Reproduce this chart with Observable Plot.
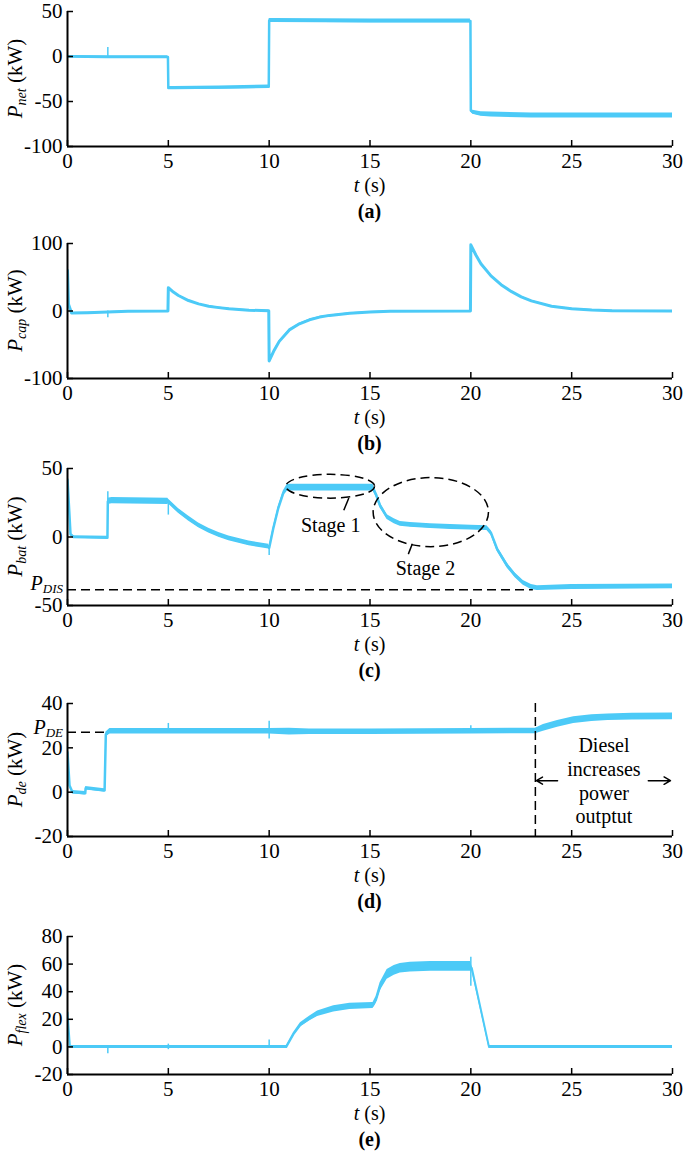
<!DOCTYPE html>
<html><head><meta charset="utf-8">
<script src="https://cdn.jsdelivr.net/npm/d3@7"></script>
<script src="https://cdn.jsdelivr.net/npm/@observablehq/plot@0.6"></script>
<style>
body{margin:0;background:#fff;width:685px;height:1160px;position:relative;overflow:hidden;font-family:"Liberation Serif","Times New Roman",serif;}
.panel{position:absolute;left:0;}
</style></head><body>
<script>
const COLOR = "#4ccaf7";
const FONT = "'Liberation Serif', 'Times New Roman', serif";
const xTicks = [0, 5, 10, 15, 20, 25, 30];

// (a) P_net
const tA = [0, 1.9, 2.1, 4.98, 5.0, 5.3, 7.5, 9.98, 10.0, 10.2, 15, 19.98, 20.0, 20.1, 20.5, 21, 23, 25, 30];
const vA = [0, -0.5, -0.5, -0.5, -35, -35, -34.5, -33.5, 40, 40, 39.5, 39.5, -60, -62, -64, -64.5, -65.5, -65.5, -65.5];
const wA = [2.5, 2.5, 2.5, 2.5, 3.5, 3.5, 3.5, 3.5, 4.5, 4.5, 4.5, 4.5, 3.5, 4.5, 5, 5.5, 5.5, 5.5, 5.5];
const spikesA = [{t: 2, lo: 0, hi: 10}];
const yTicksA = [-100, -50, 0, 50];

// (b) P_cap
const tB = [0, 0.05, 0.2, 1, 2, 3, 4.98, 5.0, 5.25, 5.5, 6, 6.5, 7, 7.5, 8, 9, 9.98, 10.0, 10.25, 10.5, 11, 11.5, 12, 12.5, 13, 14, 15, 16, 19.98, 20.0, 20.25, 20.5, 21, 21.5, 22, 22.5, 23, 24, 25, 26, 27, 30];
const vB = [60, 10, -3, -2.5, -1.5, -0.5, 0, 34.5, 28, 23, 15.5, 10.5, 7, 5, 3.3, 1.2, 0.3, -74, -58, -45, -28, -19, -13, -9, -6.5, -3.3, -1.5, -0.5, 0, 98, 83, 70, 52, 39, 29, 21, 15, 7, 3.3, 1.5, 0.5, 0];
const wB = vB.map(() => 1.5);
const spikesB = [{t: 2, lo: -10, hi: 0}];
const yTicksB = [-100, 0, 100];

// (c) P_bat
const tC = [0, 0.15, 0.3, 1.98, 2.0, 2.2, 4.98, 5.0, 5.5, 6, 6.5, 7, 7.5, 8, 9, 9.98, 10.0, 10.2, 10.45, 10.7, 10.9, 11.2, 13, 15.15, 15.3, 15.5, 15.85, 16.2, 16.5, 17, 18, 19, 20, 20.8, 21.0, 21.3, 21.8, 22.2, 22.6, 23.0, 23.3, 25, 30];
const vC = [42, 2, 0, -0.5, 26, 26.5, 26, 26, 19, 13.5, 8.5, 4.7, 1.5, -1, -4.7, -7, -8, 6, 21, 32, 36, 36, 36, 36, 31, 23, 14.5, 11.5, 9.6, 8.8, 7.9, 7.3, 6.8, 6.5, 3, -8.6, -20.8, -28, -33.5, -36.5, -37.3, -36.5, -36];
const wC = [1, 2, 2, 2, 4.5, 4.5, 4.5, 3.5, 3.5, 3.5, 3.5, 3.5, 3.5, 3.5, 3.5, 3.5, 2, 2, 2, 3, 5, 5, 5, 5, 3.5, 3.5, 3.5, 3.5, 3.5, 3.5, 3.5, 3.5, 3.5, 3.5, 3.5, 3.5, 3.5, 3.5, 3.5, 3.5, 3.5, 3.5, 3.5];
const spikesC = [{t: 2, lo: 26, hi: 33}, {t: 5, lo: 16, hi: 26}, {t: 10, lo: -13.5, hi: -7}];
const yTicksC = [-50, 0, 50];

// (d) P_de
const tD = [0, 0.1, 0.25, 0.88, 0.9, 1.84, 1.9, 2.1, 5, 10, 11, 12, 15, 20, 23.2, 23.6, 24.3, 25.1, 26, 26.8, 28, 30];
const vD = [18, 3, 0, -0.5, 1.8, 0.8, 26, 27.5, 27.5, 27.5, 27.3, 27.3, 27.3, 27.5, 27.6, 29, 30.8, 32.5, 33.4, 33.8, 34.1, 34.2];
const wD = [1, 1.5, 1.5, 1.5, 1.5, 1.5, 2, 2.5, 2.5, 2.5, 3, 2.5, 2.5, 2.5, 2.5, 3, 3, 3, 3, 3, 3, 3];
const spikesD = [{t: 5, lo: 27, hi: 31}, {t: 10, lo: 24, hi: 32}, {t: 20, lo: 27, hi: 30}];
const yTicksD = [-20, 0, 20, 40];

// (e) P_flex
const tE = [0, 0.12, 0.3, 5, 10, 10.85, 11.2, 11.55, 12, 12.4, 13.2, 14, 15.15, 15.3, 15.5, 15.85, 16.2, 16.5, 17, 18, 19, 19.98, 20.05, 20.9, 21.1, 25, 30];
const vE = [25, 0, 0, 0, 0, 0, 9, 16, 20.5, 24, 27.5, 29.3, 30, 34, 43.5, 52.5, 55.5, 57, 57.8, 58.3, 58.3, 58.3, 57, 0, 0, 0, 0];
const wE = [1, 2, 2, 2, 2, 2, 2.5, 3, 3.5, 4, 4.5, 4.5, 4.5, 5, 6, 7, 7, 7, 7, 7, 7, 7, 4, 2, 2, 2, 2];
const spikesE = [{t: 2, lo: -5, hi: 0}, {t: 5, lo: -2, hi: 2}, {t: 10, lo: 0, hi: 5}, {t: 20, lo: 44, hi: 65}];
const yTicksE = [-20, 0, 20, 40, 60, 80];

// annotations
const stageEllipses = [{t0: 10.85, t1: 15.25, y0: 28, y1: 45.4}, {t0: 15.18, t1: 20.9, y0: -7.4, y1: 43}];
const stageLabels = [{t: 13.05, y: 8.4, text: "Stage 1"}, {t: 17.75, y: -23, text: "Stage 2"}];
const stageLeaders = [
  {t1: 13.95, y1: 28.5, t2: 13.7, y2: 19.5},
  {t1: 17.1, y1: -5, t2: 16.9, y2: -12.5}
];
const pDis = -38.5, pDisEnd = 23.1;
const pDe = 27, pDeEnd = 1.9;
const dieselT = 23.2;
const dieselArrows = [{t1: 24.3, t2: 23.25, y: 5.2}, {t1: 28.8, t2: 29.9, y: 5.2}];
const dieselText = {t: 26.6, y: 5.4, text: "Diesel\nincreases\npower\noutptut"};

const panels = [
  {top: 11, bottom: 146, domain: [-100, 50], yTicks: yTicksA, t: tA, v: vA, w: wA, spikes: spikesA, sub: "net", cap: "(a)", lw: 2.5},
  {top: 243, bottom: 378, domain: [-100, 100], yTicks: yTicksB, t: tB, v: vB, w: wB, spikes: spikesB, sub: "cap", cap: "(b)", lw: 3},
  {top: 468, bottom: 605, domain: [-50, 50], yTicks: yTicksC, t: tC, v: vC, w: wC, spikes: spikesC, sub: "bat", cap: "(c)", kind: "c", lw: 2.5},
  {top: 703, bottom: 836, domain: [-20, 40], yTicks: yTicksD, t: tD, v: vD, w: wD, spikes: spikesD, sub: "de", cap: "(d)", kind: "d", lw: 2.5},
  {top: 936, bottom: 1074, domain: [-20, 80], yTicks: yTicksE, t: tE, v: vE, w: wE, spikes: spikesE, sub: "flex", cap: "(e)", lw: 2}
];

const ML = 67, MR = 13, W = 685, MT = 12, MB = 82;

function subLabel(g, main, sub, subSize, dy) {
  g.append("tspan").attr("font-style", "italic").text(main);
  g.append("tspan").attr("font-style", "italic").attr("font-size", subSize).attr("dy", dy).text(sub);
}

for (const p of panels) {
  const plotH = p.bottom - p.top;
  const plotW = W - ML - MR;
  const H = MT + plotH + MB;
  const idx = d3.range(p.t.length);
  const extra = [];
  if (p.kind === "c") {
    extra.push(Plot.ruleY([pDis], {x1: 0, x2: pDisEnd, stroke: "black", strokeWidth: 1.5, strokeDasharray: "9,5"}));
    extra.push(Plot.link(stageLeaders, {x1: "t1", y1: "y1", x2: "t2", y2: "y2", stroke: "black", strokeWidth: 1.5}));
    extra.push(Plot.text(stageLabels, {x: "t", y: "y", text: "text", fontSize: 20, fill: "black"}));
  }
  if (p.kind === "d") {
    extra.push(Plot.ruleY([pDe], {x1: 0, x2: pDeEnd, stroke: "black", strokeWidth: 1.5, strokeDasharray: "9,5"}));
    extra.push(Plot.ruleX([dieselT], {stroke: "black", strokeWidth: 1.5, strokeDasharray: "9,5"}));
    extra.push(Plot.arrow(dieselArrows, {x1: "t1", x2: "t2", y1: "y", y2: "y", stroke: "black", strokeWidth: 1.5, headLength: 9}));
    extra.push(Plot.text([dieselText], {x: "t", y: "y", text: "text", fontSize: 20, lineHeight: 1.18, fill: "black"}));
  }
  const plot = Plot.plot({
    width: W, height: H, marginLeft: ML, marginRight: MR, marginTop: MT, marginBottom: MB,
    style: {fontFamily: FONT, fontSize: "20px", color: "black", background: "white", overflow: "visible"},
    x: {domain: [0, 30]},
    y: {domain: p.domain},
    marks: [
      Plot.areaY(idx, {x: i => p.t[i], y1: i => p.v[i] - p.w[i] / 2, y2: i => p.v[i] + p.w[i] / 2, fill: COLOR, clip: true}),
      Plot.line(idx, {x: i => p.t[i], y: i => p.v[i], stroke: COLOR, strokeWidth: p.lw || 2, clip: true}),
      Plot.ruleX(p.spikes, {x: "t", y1: "lo", y2: "hi", stroke: COLOR, strokeWidth: 1.5}),
      ...extra,
      Plot.ruleX([0], {stroke: "black", strokeWidth: 2}),
      Plot.ruleY([p.domain[0]], {stroke: "black", strokeWidth: 2}),
      Plot.tickX(xTicks, {x: d => d, insetTop: plotH - 6, stroke: "black", strokeWidth: 1.5}),
      Plot.tickY(p.yTicks, {y: d => d, insetRight: plotW - 6, stroke: "black", strokeWidth: 1.5}),
      Plot.axisX(xTicks, {tickSize: 0, tickPadding: 7, tickFormat: d => String(d), fontSize: 21, label: null}),
      Plot.axisY(p.yTicks, {tickSize: 0, tickPadding: 5, tickFormat: d => String(d), fontSize: 21, label: null})
    ]
  });
  const div = document.createElement("div");
  div.className = "panel";
  div.style.top = (p.top - MT) + "px";
  div.appendChild(plot);
  document.body.appendChild(div);

  const svg = d3.select(plot);
  const sx = plot.scale("x"), sy = plot.scale("y");
  const cx = ML + plotW / 2;
  const yb = MT + plotH;
  const xl = svg.append("text").attr("x", cx).attr("y", yb + 46).attr("text-anchor", "middle")
    .attr("font-family", FONT).attr("font-size", 20).attr("fill", "black");
  xl.append("tspan").attr("font-style", "italic").text("t");
  xl.append("tspan").text(" (s)");
  svg.append("text").attr("x", cx).attr("y", yb + 72).attr("text-anchor", "middle")
    .attr("font-family", FONT).attr("font-size", 20).attr("font-weight", "bold").attr("fill", "black").text(p.cap);
  const yl = svg.append("text").attr("transform", `translate(22,${MT + plotH / 2}) rotate(-90)`)
    .attr("text-anchor", "middle").attr("font-family", FONT).attr("font-size", 21).attr("fill", "black");
  subLabel(yl, "P", p.sub, 14, 4);
  yl.append("tspan").attr("dy", -4).text(" (kW)");

  if (p.kind === "c") {
    for (const e of stageEllipses) {
      const x0 = sx.apply(e.t0), x1 = sx.apply(e.t1), y0 = sy.apply(e.y0), y1 = sy.apply(e.y1);
      svg.append("ellipse").attr("cx", (x0 + x1) / 2).attr("cy", (y0 + y1) / 2)
        .attr("rx", Math.abs(x1 - x0) / 2).attr("ry", Math.abs(y1 - y0) / 2)
        .attr("fill", "none").attr("stroke", "black").attr("stroke-width", 1.5).attr("stroke-dasharray", "9,5");
    }
    const tl = svg.append("text").attr("x", ML - 4).attr("y", sy.apply(pDis) + 1).attr("text-anchor", "end")
      .attr("font-family", FONT).attr("font-size", 20).attr("fill", "black");
    subLabel(tl, "P", "DIS", 13, 3);
  }
  if (p.kind === "d") {
    const tl = svg.append("text").attr("x", ML - 4).attr("y", sy.apply(pDe) + 2).attr("text-anchor", "end")
      .attr("font-family", FONT).attr("font-size", 20).attr("fill", "black");
    subLabel(tl, "P", "DE", 13, 3);
  }
}
</script>
</body></html>
